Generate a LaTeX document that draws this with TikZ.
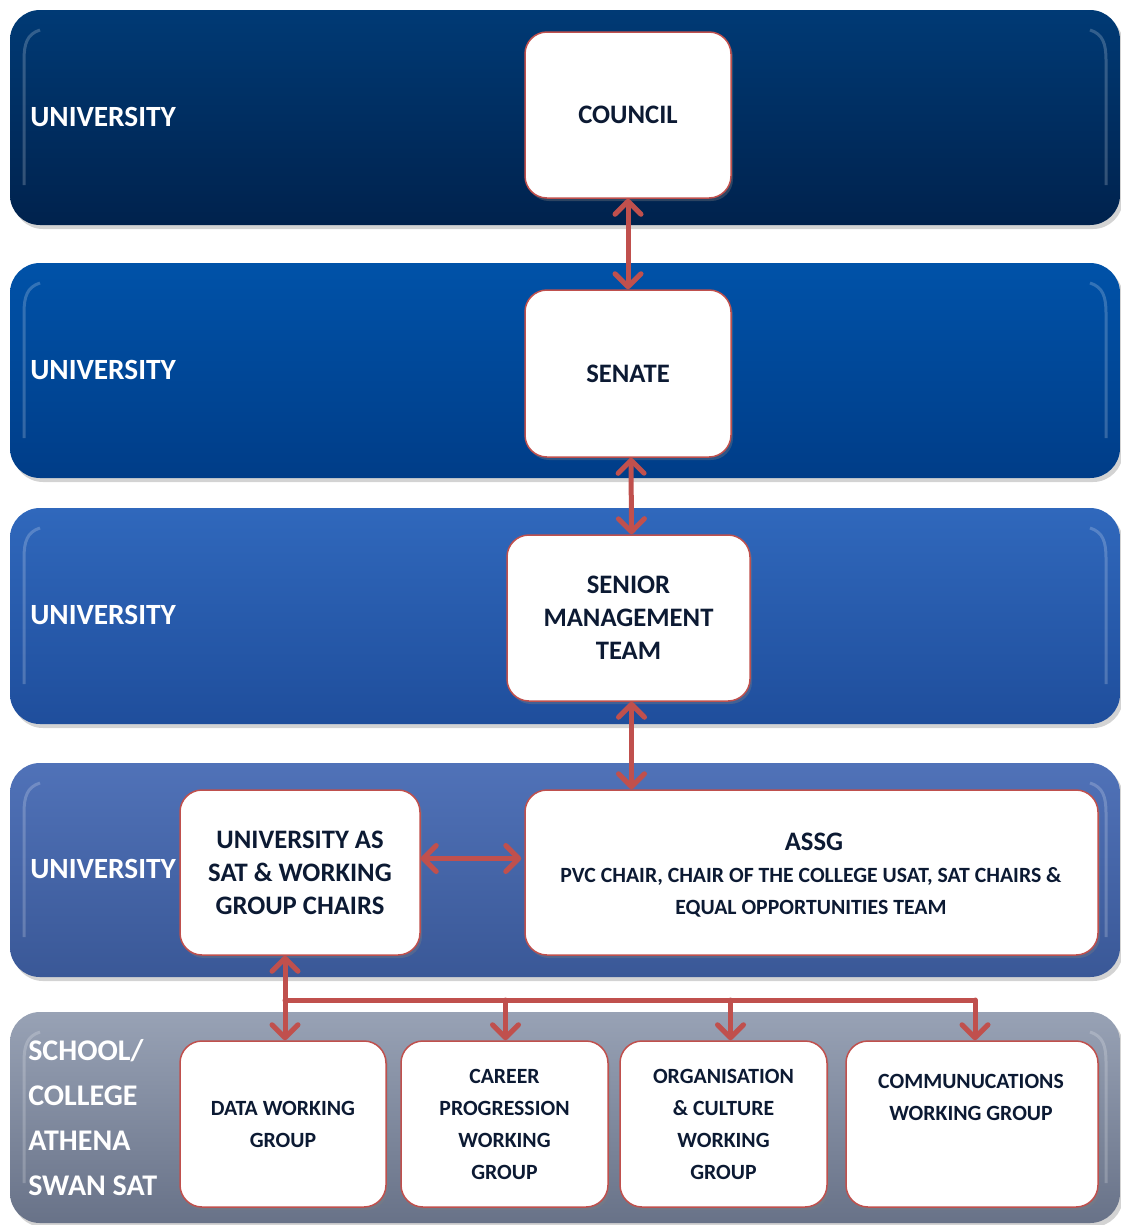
\documentclass[tikz,border=0pt]{standalone}
\usepackage{fontspec}
\setmainfont{Carlito}
\usetikzlibrary{arrows.meta,shadows,calc}
\definecolor{arr}{HTML}{C0504D}
\definecolor{txt}{HTML}{0C1A33}
\definecolor{aT}{HTML}{003A75}\definecolor{aB}{HTML}{00224D}
\definecolor{bT}{HTML}{0052A8}\definecolor{bB}{HTML}{003D88}
\definecolor{cT}{HTML}{3068BC}\definecolor{cB}{HTML}{1F4E9C}
\definecolor{dT}{HTML}{5072B8}\definecolor{dB}{HTML}{3A5897}
\definecolor{eT}{HTML}{98A2B5}\definecolor{eB}{HTML}{687288}
\def\u{0.75pt}
\begin{document}
\begin{tikzpicture}[x=0.75pt,y=-0.75pt,
  band/.style={rounded corners=30*\u, drop shadow={shadow xshift=3*\u,shadow yshift=-4*\u,opacity=0.35}},
  bandlbl/.style={anchor=west, text=white, font=\bfseries\fontsize{22}{26}\selectfont, inner sep=0pt},
  box/.style={draw=arr, line width=1.5*\u, fill=white, rounded corners=22*\u, align=center, text=txt,
     font=\bfseries\fontsize{20}{24.75}\selectfont, inner sep=0pt,
     drop shadow={shadow xshift=2*\u,shadow yshift=-3*\u,opacity=0.35}},
  small/.style={font=\bfseries\fontsize{16.3}{24}\selectfont},
  conn/.style={draw=arr, line width=5*\u, line cap=round},
  tip/.tip={Straight Barb[length=13*\u, width=26*\u, round]},
  hl/.style={draw=white, line width=3*\u, opacity=0.2}
]
\useasboundingbox (0,0) rectangle (1121,1225);
% bands
\shade[band, top color=aT, bottom color=aB] (10,10) rectangle (1120,225);
\shade[band, top color=bT, bottom color=bB] (10,263) rectangle (1120,478);
\shade[band, top color=cT, bottom color=cB] (10,508) rectangle (1120,724);
\shade[band, top color=dT, bottom color=dB] (10,763) rectangle (1120,977);
\shade[band, top color=eT, bottom color=eB] (10,1012) rectangle (1120,1223);
% edge highlights
\foreach \t/\b in {10/225,263/478,508/724,763/977,1012/1223}{
  \draw[hl] (40,\t+20) .. controls (27,\t+24) and (24,\t+34) .. (24,\t+50) -- (24,\b-40);
  \draw[hl] (1090,\t+20) .. controls (1103,\t+24) and (1106,\t+34) .. (1106,\t+50) -- (1106,\b-40);
}
% band labels
\node[bandlbl] (l1) at (30,117) {UNIVERSITY};
\node[bandlbl] (l2) at (30,370) {UNIVERSITY};
\node[bandlbl] (l3) at (30,615) {UNIVERSITY};
\node[bandlbl] (l4) at (30,869) {UNIVERSITY};
\node[bandlbl, align=left, font=\bfseries\fontsize{22.5}{33.75}\selectfont] (l5) at (28,1118) {SCHOOL/\\COLLEGE\\ATHENA\\SWAN SAT};
% boxes
\node[box, minimum width=206*\u, minimum height=166*\u] (council) at (628,115) {COUNCIL};
\node[box, minimum width=206*\u, minimum height=167*\u] (senate) at (628,373.5) {SENATE};
\node[box, minimum width=243*\u, minimum height=166*\u] (smt) at (628.5,618) {SENIOR\\MANAGEMENT\\TEAM};
\node[box, minimum width=240*\u, minimum height=165*\u] (sat) at (300,872.5) {UNIVERSITY AS\\SAT \& WORKING\\GROUP CHAIRS};
\node[box, minimum width=573*\u, minimum height=165*\u] (assg) at (811.5,872.5) {};
\node[text=txt, font=\bfseries\fontsize{20}{24}\selectfont] (assgt) at (814,842) {ASSG};
\node[text=txt, small, align=center] (assgs) at (811,892) {PVC CHAIR, CHAIR OF THE COLLEGE USAT, SAT CHAIRS \&\\EQUAL OPPORTUNITIES TEAM};
\node[box, small, minimum width=206*\u, minimum height=166*\u] (data) at (283,1124) {DATA WORKING\\GROUP};
\node[box, small, minimum width=207*\u, minimum height=166*\u] (career) at (504.5,1124) {CAREER\\PROGRESSION\\WORKING\\GROUP};
\node[box, small, minimum width=207*\u, minimum height=166*\u] (org) at (723.5,1124) {ORGANISATION\\\& CULTURE\\WORKING\\GROUP};
\node[box, small, minimum width=252*\u, minimum height=166*\u] (comm) at (972,1124) {};
\node[text=txt, small, align=center] (commt) at (971,1097) {COMMUNUCATIONS\\WORKING GROUP};
% connectors
\draw[conn, tip-tip] (council.south) -- (senate.north);
\draw[conn, tip-tip] ([xshift=3*\u]senate.south) -- ([xshift=3*\u]smt.north);
\draw[conn, tip-tip] ([xshift=3*\u]smt.south) -- ([xshift=3*\u]smt.south |- assg.north);
\draw[conn, tip-tip] ([yshift=14*\u]sat.east) -- ([yshift=14*\u,xshift=-3*\u]assg.west);
\coordinate (bus) at (285,1000);
\draw[conn, tip-tip] ([xshift=2*\u]data.north |- sat.south) -- ([xshift=2*\u]data.north);
\draw[conn] ([xshift=2*\u]bus -| data.north) -- ([xshift=3*\u]bus -| comm.north);
\draw[conn, -tip] ([xshift=1*\u]bus -| career.north) -- ([xshift=1*\u]career.north);
\draw[conn, -tip] ([xshift=7*\u]bus -| org.north) -- ([xshift=7*\u]org.north);
\draw[conn, -tip] ([xshift=3*\u]bus -| comm.north) -- ([xshift=3*\u]comm.north);
\end{tikzpicture}
\end{document}
